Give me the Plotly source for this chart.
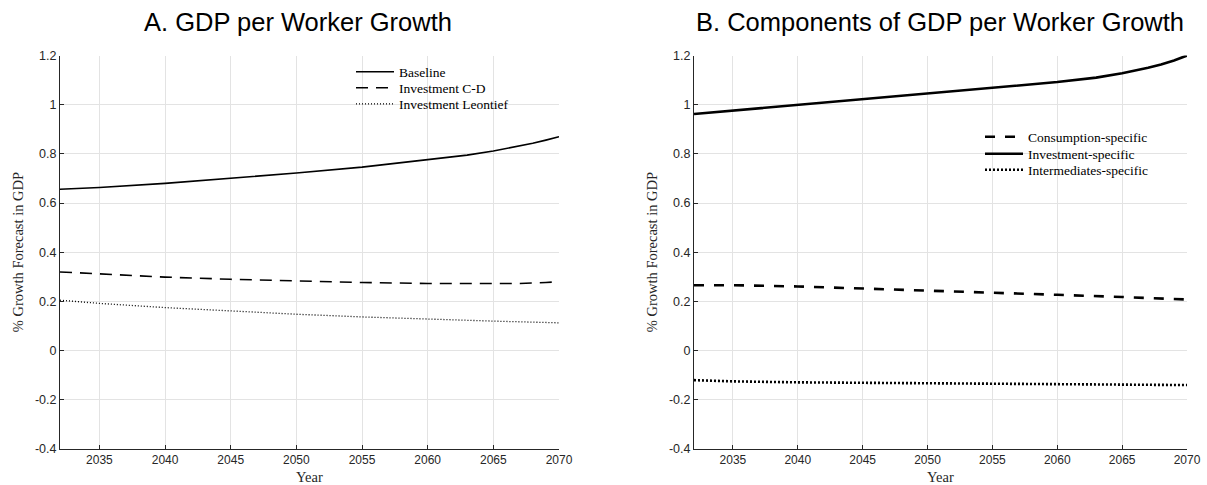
import plotly.graph_objects as go

# ---- data ----
years_base = [2032, 2035, 2040, 2045, 2050, 2055, 2060, 2063, 2065, 2067, 2068, 2069, 2070]
baseline = [0.656, 0.663, 0.680, 0.700, 0.722, 0.746, 0.775, 0.795, 0.812, 0.832, 0.843, 0.856, 0.870]

years_cd = [2032, 2035, 2040, 2045, 2050, 2055, 2060, 2065, 2067, 2069, 2070]
invest_cd = [0.320, 0.311, 0.299, 0.290, 0.283, 0.277, 0.273, 0.272, 0.273, 0.277, 0.280]

years_leo = [2032, 2035, 2040, 2045, 2050, 2055, 2060, 2065, 2070]
invest_leo = [0.205, 0.192, 0.175, 0.160, 0.148, 0.137, 0.128, 0.120, 0.113]

years_inv = [2032, 2035, 2040, 2045, 2050, 2055, 2060, 2063, 2065, 2067, 2068, 2069, 2070]
invest_spec = [0.962, 0.976, 1.000, 1.024, 1.047, 1.068, 1.092, 1.110, 1.128, 1.150, 1.163, 1.180, 1.200]

years_comp = [2032, 2035, 2040, 2045, 2050, 2055, 2060, 2065, 2070]
cons_spec = [0.266, 0.266, 0.261, 0.253, 0.245, 0.236, 0.227, 0.218, 0.208]
inter_spec = [-0.120, -0.125, -0.129, -0.131, -0.133, -0.134, -0.136, -0.138, -0.140]

x_ticks = [2035, 2040, 2045, 2050, 2055, 2060, 2065, 2070]
x_ticktext = [str(t) for t in x_ticks]
y_ticks = [-0.4, -0.2, 0, 0.2, 0.4, 0.6, 0.8, 1.0, 1.2]
y_ticktext = ["-0.4", "-0.2", "0", "0.2", "0.4", "0.6", "0.8", "1", "1.2"]

titles = ["A. GDP per Worker Growth", "B. Components of GDP per Worker Growth"]
x_title = "Year"
y_title = "% Growth Forecast in GDP"

# ---- figure ----
OFF = 0                      # body margin removed via post_script
W, H = 1207, 485
SERIF = "Liberation Serif"
SANS = "Liberation Sans, Arial, Helvetica"
AX = "#262626"
GRID = "#e3e3e3"

def px(p):   # page x pixel -> paper fraction
    return (p - OFF) / W

def py(p):   # page y pixel -> paper fraction (from bottom)
    return 1 - (p - OFF) / H

fig = go.Figure()

series = [
    (years_base, baseline, "Baseline", dict(color="black", width=1.6), "x", "y", "legend"),
    (years_cd, invest_cd, "Investment C-D", dict(color="black", width=1.6, dash="12px,8px"), "x", "y", "legend2"),
    (years_leo, invest_leo, "Investment Leontief", dict(color="black", width=1.3, dash="1px,2px"), "x", "y", "legend3"),
    (years_comp, cons_spec, "Consumption-specific", dict(color="black", width=2.6, dash="10px,10px"), "x2", "y2", "legend4"),
    (years_inv, invest_spec, "Investment-specific", dict(color="black", width=2.6), "x2", "y2", "legend5"),
    (years_comp, inter_spec, "Intermediates-specific", dict(color="black", width=2.6, dash="2px,2px"), "x2", "y2", "legend6"),
]
for xs, ys, name, line, xa, ya, lg in series:
    fig.add_trace(go.Scatter(x=xs, y=ys, mode="lines", name=name, line=line,
                             xaxis=xa, yaxis=ya, legend=lg))

left_dom = [px(60), px(559)]
right_dom = [px(694), px(1187)]
y_dom = [py(449), py(55.5)]

def xax(dom, anchor):
    return dict(domain=dom, anchor=anchor, range=[2032, 2070], tickvals=x_ticks, ticktext=x_ticktext,
                showgrid=True, gridcolor=GRID, gridwidth=1, showline=True, linecolor=AX, linewidth=1,
                ticks="inside", ticklen=4, tickcolor=AX, mirror=False, zeroline=False, automargin=False,
                tickfont=dict(family=SANS, size=12, color=AX))

def yax(anchor):
    return dict(domain=y_dom, anchor=anchor, range=[-0.4, 1.2], tickvals=y_ticks, ticktext=y_ticktext,
                showgrid=True, gridcolor=GRID, gridwidth=1, showline=True, linecolor=AX, linewidth=1,
                ticks="inside", ticklen=4, tickcolor=AX, mirror=False, zeroline=False, automargin=False,
                tickfont=dict(family=SANS, size=12.5, color=AX))

def leg(xp, yp):
    return dict(x=px(xp), y=py(yp), xanchor="left", yanchor="middle",
                font=dict(family=SERIF, size=13.5, color="black"), bgcolor="rgba(0,0,0,0)",
                itemwidth=38, borderwidth=0)

fig.update_layout(
    width=W, height=H,
    margin=dict(l=0, r=0, t=0, b=0, autoexpand=False),
    paper_bgcolor="white", plot_bgcolor="white",
    xaxis=xax(left_dom, "y"), yaxis=yax("x"),
    xaxis2=xax(right_dom, "y2"), yaxis2=yax("x2"),
    legend=leg(351, 72), legend2=leg(351, 88), legend3=leg(351, 104),
    legend4=leg(980, 137), legend5=leg(980, 154), legend6=leg(980, 170),
    showlegend=True,
    hovermode=False,
)

ann = []
ann.append(dict(text=titles[0], x=px(298), y=py(22), xref="paper", yref="paper",
                showarrow=False, font=dict(family=SANS, size=25.5, color="black"), xanchor="center", yanchor="middle"))
ann.append(dict(text=titles[1], x=px(940), y=py(22), xref="paper", yref="paper",
                showarrow=False, font=dict(family=SANS, size=25.5, color="black"), xanchor="center", yanchor="middle"))
for dom in (left_dom, right_dom):
    ann.append(dict(text=x_title, x=(dom[0] + dom[1]) / 2, y=py(477), xref="paper", yref="paper",
                    showarrow=False, font=dict(family=SERIF, size=14.5, color=AX), xanchor="center", yanchor="middle"))
for xp in (18, 652):
    ann.append(dict(text=y_title, x=px(xp), y=(y_dom[0] + y_dom[1]) / 2, xref="paper", yref="paper",
                    showarrow=False, textangle=-90, font=dict(family=SERIF, size=14.5, color=AX),
                    xanchor="center", yanchor="middle"))
fig.update_layout(annotations=ann)

fig.write_html("out.html",
               config={"displayModeBar": False},
               post_script="document.body.style.margin='0';document.body.style.padding='0';"
                           "document.body.style.overflow='hidden';")
